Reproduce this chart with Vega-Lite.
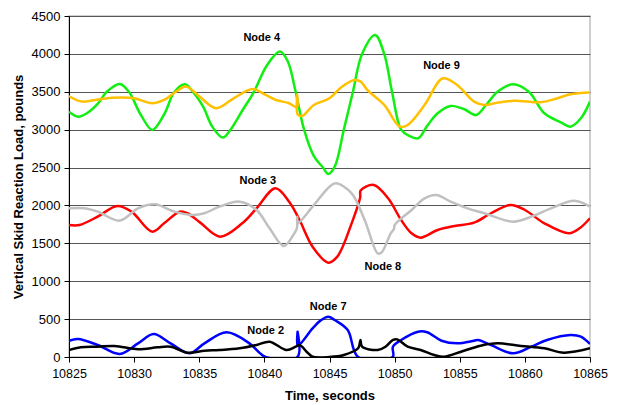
{
  "$schema": "https://vega.github.io/schema/vega-lite/v6.json",
  "width": 521,
  "height": 341,
  "autosize": {"type": "none"},
  "padding": {"left": 69, "top": 16, "right": 28, "bottom": 48},
  "config": {
    "font": "Liberation Sans",
    "view": {"stroke": "#c0c0c0", "strokeWidth": 1.5},
    "axis": {"labelFont": "Liberation Sans", "titleFont": "Liberation Sans", "labelFontSize": 13, "titleFontSize": 13, "titleFontWeight": "bold", "labelColor": "#000", "titleColor": "#000", "domainColor": "#000", "tickColor": "#000", "tickSize": 5, "labelOverlap": false}
  },
  "datasets": {
    "series": [
      {"node": "Node 4", "t": 10825.0, "v": 3238},
      {"node": "Node 4", "t": 10825.7, "v": 3172},
      {"node": "Node 4", "t": 10826.4, "v": 3220},
      {"node": "Node 4", "t": 10827.2, "v": 3340},
      {"node": "Node 4", "t": 10827.9, "v": 3500},
      {"node": "Node 4", "t": 10828.9, "v": 3604},
      {"node": "Node 4", "t": 10829.6, "v": 3500},
      {"node": "Node 4", "t": 10830.5, "v": 3200},
      {"node": "Node 4", "t": 10831.4, "v": 2996},
      {"node": "Node 4", "t": 10832.3, "v": 3200},
      {"node": "Node 4", "t": 10833.1, "v": 3500},
      {"node": "Node 4", "t": 10833.9, "v": 3599},
      {"node": "Node 4", "t": 10834.6, "v": 3480},
      {"node": "Node 4", "t": 10835.3, "v": 3304},
      {"node": "Node 4", "t": 10836.0, "v": 3040},
      {"node": "Node 4", "t": 10836.8, "v": 2895},
      {"node": "Node 4", "t": 10837.4, "v": 3000},
      {"node": "Node 4", "t": 10838.3, "v": 3250},
      {"node": "Node 4", "t": 10839.2, "v": 3500},
      {"node": "Node 4", "t": 10840.2, "v": 3850},
      {"node": "Node 4", "t": 10841.2, "v": 4030},
      {"node": "Node 4", "t": 10841.8, "v": 3900},
      {"node": "Node 4", "t": 10842.4, "v": 3500},
      {"node": "Node 4", "t": 10843.05, "v": 3000},
      {"node": "Node 4", "t": 10843.8, "v": 2650},
      {"node": "Node 4", "t": 10844.5, "v": 2500},
      {"node": "Node 4", "t": 10844.9, "v": 2416},
      {"node": "Node 4", "t": 10845.4, "v": 2512},
      {"node": "Node 4", "t": 10846.1, "v": 3000},
      {"node": "Node 4", "t": 10846.8, "v": 3500},
      {"node": "Node 4", "t": 10847.5, "v": 4000},
      {"node": "Node 4", "t": 10848.5, "v": 4250},
      {"node": "Node 4", "t": 10849.2, "v": 4000},
      {"node": "Node 4", "t": 10849.8, "v": 3500},
      {"node": "Node 4", "t": 10850.5, "v": 3000},
      {"node": "Node 4", "t": 10851.1, "v": 2920},
      {"node": "Node 4", "t": 10851.8, "v": 2887},
      {"node": "Node 4", "t": 10852.5, "v": 3050},
      {"node": "Node 4", "t": 10853.3, "v": 3216},
      {"node": "Node 4", "t": 10854.3, "v": 3313},
      {"node": "Node 4", "t": 10855.35, "v": 3269},
      {"node": "Node 4", "t": 10856.25, "v": 3194},
      {"node": "Node 4", "t": 10857.0, "v": 3320},
      {"node": "Node 4", "t": 10857.9, "v": 3500},
      {"node": "Node 4", "t": 10859.1, "v": 3599},
      {"node": "Node 4", "t": 10860.3, "v": 3500},
      {"node": "Node 4", "t": 10861.5, "v": 3216},
      {"node": "Node 4", "t": 10862.8, "v": 3093},
      {"node": "Node 4", "t": 10863.5, "v": 3040},
      {"node": "Node 4", "t": 10864.3, "v": 3150},
      {"node": "Node 4", "t": 10865.0, "v": 3370},

      {"node": "Node 9", "t": 10825.0, "v": 3445},
      {"node": "Node 9", "t": 10825.7, "v": 3383},
      {"node": "Node 9", "t": 10826.2, "v": 3370},
      {"node": "Node 9", "t": 10827.5, "v": 3406},
      {"node": "Node 9", "t": 10829.0, "v": 3423},
      {"node": "Node 9", "t": 10830.0, "v": 3414},
      {"node": "Node 9", "t": 10831.4, "v": 3349},
      {"node": "Node 9", "t": 10832.3, "v": 3392},
      {"node": "Node 9", "t": 10833.2, "v": 3500},
      {"node": "Node 9", "t": 10834.0, "v": 3568},
      {"node": "Node 9", "t": 10835.0, "v": 3440},
      {"node": "Node 9", "t": 10836.3, "v": 3283},
      {"node": "Node 9", "t": 10837.7, "v": 3420},
      {"node": "Node 9", "t": 10839.1, "v": 3538},
      {"node": "Node 9", "t": 10840.1, "v": 3458},
      {"node": "Node 9", "t": 10840.9, "v": 3392},
      {"node": "Node 9", "t": 10841.9, "v": 3349},
      {"node": "Node 9", "t": 10842.5, "v": 3296},
      {"node": "Node 9", "t": 10842.52, "v": 3460},
      {"node": "Node 9", "t": 10842.56, "v": 3200},
      {"node": "Node 9", "t": 10842.9, "v": 3181},
      {"node": "Node 9", "t": 10843.8, "v": 3326},
      {"node": "Node 9", "t": 10845.0, "v": 3414},
      {"node": "Node 9", "t": 10845.9, "v": 3560},
      {"node": "Node 9", "t": 10846.9, "v": 3656},
      {"node": "Node 9", "t": 10847.4, "v": 3634},
      {"node": "Node 9", "t": 10847.9, "v": 3524},
      {"node": "Node 9", "t": 10849.2, "v": 3326},
      {"node": "Node 9", "t": 10850.4, "v": 3040},
      {"node": "Node 9", "t": 10851.0, "v": 3062},
      {"node": "Node 9", "t": 10852.3, "v": 3326},
      {"node": "Node 9", "t": 10853.7, "v": 3678},
      {"node": "Node 9", "t": 10854.8, "v": 3590},
      {"node": "Node 9", "t": 10856.1, "v": 3370},
      {"node": "Node 9", "t": 10856.9, "v": 3326},
      {"node": "Node 9", "t": 10857.9, "v": 3357},
      {"node": "Node 9", "t": 10859.2, "v": 3383},
      {"node": "Node 9", "t": 10861.2, "v": 3362},
      {"node": "Node 9", "t": 10862.5, "v": 3414},
      {"node": "Node 9", "t": 10863.5, "v": 3467},
      {"node": "Node 9", "t": 10865.0, "v": 3489},

      {"node": "Node 3", "t": 10825.0, "v": 1742},
      {"node": "Node 3", "t": 10825.8, "v": 1742},
      {"node": "Node 3", "t": 10827.2, "v": 1852},
      {"node": "Node 3", "t": 10828.7, "v": 1993},
      {"node": "Node 3", "t": 10829.8, "v": 1918},
      {"node": "Node 3", "t": 10831.4, "v": 1654},
      {"node": "Node 3", "t": 10832.3, "v": 1764},
      {"node": "Node 3", "t": 10833.5, "v": 1918},
      {"node": "Node 3", "t": 10834.1, "v": 1897},
      {"node": "Node 3", "t": 10835.1, "v": 1770},
      {"node": "Node 3", "t": 10836.6, "v": 1588},
      {"node": "Node 3", "t": 10838.3, "v": 1764},
      {"node": "Node 3", "t": 10839.4, "v": 1962},
      {"node": "Node 3", "t": 10840.85, "v": 2227},
      {"node": "Node 3", "t": 10841.9, "v": 2050},
      {"node": "Node 3", "t": 10842.7, "v": 1808},
      {"node": "Node 3", "t": 10843.7, "v": 1456},
      {"node": "Node 3", "t": 10844.9, "v": 1245},
      {"node": "Node 3", "t": 10845.6, "v": 1324},
      {"node": "Node 3", "t": 10846.7, "v": 1764},
      {"node": "Node 3", "t": 10847.35, "v": 2100},
      {"node": "Node 3", "t": 10847.4, "v": 2200},
      {"node": "Node 3", "t": 10848.4, "v": 2270},
      {"node": "Node 3", "t": 10849.5, "v": 2094},
      {"node": "Node 3", "t": 10850.5, "v": 1808},
      {"node": "Node 3", "t": 10851.3, "v": 1632},
      {"node": "Node 3", "t": 10852.0, "v": 1575},
      {"node": "Node 3", "t": 10853.3, "v": 1676},
      {"node": "Node 3", "t": 10854.6, "v": 1729},
      {"node": "Node 3", "t": 10856.1, "v": 1773},
      {"node": "Node 3", "t": 10857.4, "v": 1897},
      {"node": "Node 3", "t": 10858.9, "v": 2006},
      {"node": "Node 3", "t": 10860.0, "v": 1940},
      {"node": "Node 3", "t": 10861.5, "v": 1764},
      {"node": "Node 3", "t": 10863.4, "v": 1632},
      {"node": "Node 3", "t": 10864.2, "v": 1698},
      {"node": "Node 3", "t": 10865.0, "v": 1831},

      {"node": "Node 8", "t": 10825.0, "v": 1962},
      {"node": "Node 8", "t": 10826.2, "v": 1962},
      {"node": "Node 8", "t": 10827.2, "v": 1918},
      {"node": "Node 8", "t": 10828.9, "v": 1800},
      {"node": "Node 8", "t": 10830.3, "v": 1962},
      {"node": "Node 8", "t": 10831.6, "v": 2015},
      {"node": "Node 8", "t": 10833.1, "v": 1918},
      {"node": "Node 8", "t": 10834.5, "v": 1874},
      {"node": "Node 8", "t": 10835.4, "v": 1897},
      {"node": "Node 8", "t": 10836.55, "v": 1984},
      {"node": "Node 8", "t": 10838.1, "v": 2050},
      {"node": "Node 8", "t": 10839.4, "v": 1940},
      {"node": "Node 8", "t": 10840.4, "v": 1698},
      {"node": "Node 8", "t": 10841.5, "v": 1465},
      {"node": "Node 8", "t": 10842.3, "v": 1632},
      {"node": "Node 8", "t": 10842.5, "v": 1700},
      {"node": "Node 8", "t": 10842.52, "v": 1850},
      {"node": "Node 8", "t": 10842.55, "v": 1764},
      {"node": "Node 8", "t": 10843.7, "v": 1984},
      {"node": "Node 8", "t": 10845.0, "v": 2248},
      {"node": "Node 8", "t": 10845.5, "v": 2292},
      {"node": "Node 8", "t": 10846.7, "v": 2160},
      {"node": "Node 8", "t": 10847.7, "v": 1808},
      {"node": "Node 8", "t": 10848.7, "v": 1368},
      {"node": "Node 8", "t": 10849.0, "v": 1380},
      {"node": "Node 8", "t": 10849.7, "v": 1632},
      {"node": "Node 8", "t": 10849.95, "v": 1690},
      {"node": "Node 8", "t": 10850.0, "v": 1740},
      {"node": "Node 8", "t": 10851.3, "v": 1940},
      {"node": "Node 8", "t": 10852.3, "v": 2094},
      {"node": "Node 8", "t": 10853.2, "v": 2138},
      {"node": "Node 8", "t": 10854.3, "v": 2050},
      {"node": "Node 8", "t": 10855.6, "v": 1962},
      {"node": "Node 8", "t": 10856.9, "v": 1897},
      {"node": "Node 8", "t": 10859.1, "v": 1786},
      {"node": "Node 8", "t": 10860.5, "v": 1852},
      {"node": "Node 8", "t": 10862.0, "v": 1962},
      {"node": "Node 8", "t": 10863.8, "v": 2063},
      {"node": "Node 8", "t": 10865.0, "v": 1984},

      {"node": "Node 7", "t": 10825.0, "v": 215},
      {"node": "Node 7", "t": 10825.7, "v": 238},
      {"node": "Node 7", "t": 10827.2, "v": 158},
      {"node": "Node 7", "t": 10828.9, "v": 40},
      {"node": "Node 7", "t": 10830.3, "v": 180},
      {"node": "Node 7", "t": 10831.5, "v": 303},
      {"node": "Node 7", "t": 10832.8, "v": 180},
      {"node": "Node 7", "t": 10834.25, "v": 48},
      {"node": "Node 7", "t": 10835.4, "v": 180},
      {"node": "Node 7", "t": 10837.1, "v": 326},
      {"node": "Node 7", "t": 10838.85, "v": 180},
      {"node": "Node 7", "t": 10839.6, "v": 60},
      {"node": "Node 7", "t": 10840.1, "v": 0},
      {"node": "Node 7", "t": 10842.54, "v": 0},
      {"node": "Node 7", "t": 10842.55, "v": 334},
      {"node": "Node 7", "t": 10842.57, "v": 150},
      {"node": "Node 7", "t": 10843.7, "v": 378},
      {"node": "Node 7", "t": 10844.3, "v": 480},
      {"node": "Node 7", "t": 10844.9, "v": 532},
      {"node": "Node 7", "t": 10845.4, "v": 488},
      {"node": "Node 7", "t": 10846.4, "v": 356},
      {"node": "Node 7", "t": 10847.2, "v": 0},
      {"node": "Node 7", "t": 10849.85, "v": 0},
      {"node": "Node 7", "t": 10849.87, "v": 136},
      {"node": "Node 7", "t": 10850.5, "v": 224},
      {"node": "Node 7", "t": 10851.8, "v": 334},
      {"node": "Node 7", "t": 10852.5, "v": 326},
      {"node": "Node 7", "t": 10853.6, "v": 215},
      {"node": "Node 7", "t": 10854.8, "v": 180},
      {"node": "Node 7", "t": 10856.1, "v": 215},
      {"node": "Node 7", "t": 10856.4, "v": 224},
      {"node": "Node 7", "t": 10857.4, "v": 158},
      {"node": "Node 7", "t": 10859.1, "v": 48},
      {"node": "Node 7", "t": 10860.5, "v": 136},
      {"node": "Node 7", "t": 10861.7, "v": 224},
      {"node": "Node 7", "t": 10863.5, "v": 290},
      {"node": "Node 7", "t": 10864.3, "v": 268},
      {"node": "Node 7", "t": 10865.0, "v": 172},

      {"node": "Node 2", "t": 10825.0, "v": 92},
      {"node": "Node 2", "t": 10825.9, "v": 128},
      {"node": "Node 2", "t": 10827.2, "v": 136},
      {"node": "Node 2", "t": 10828.5, "v": 145},
      {"node": "Node 2", "t": 10830.3, "v": 102},
      {"node": "Node 2", "t": 10831.8, "v": 128},
      {"node": "Node 2", "t": 10832.8, "v": 136},
      {"node": "Node 2", "t": 10834.1, "v": 57},
      {"node": "Node 2", "t": 10835.4, "v": 83},
      {"node": "Node 2", "t": 10836.55, "v": 92},
      {"node": "Node 2", "t": 10838.1, "v": 115},
      {"node": "Node 2", "t": 10839.4, "v": 158},
      {"node": "Node 2", "t": 10840.4, "v": 202},
      {"node": "Node 2", "t": 10841.7, "v": 92},
      {"node": "Node 2", "t": 10842.4, "v": 136},
      {"node": "Node 2", "t": 10842.7, "v": 158},
      {"node": "Node 2", "t": 10843.3, "v": 60},
      {"node": "Node 2", "t": 10843.7, "v": 4},
      {"node": "Node 2", "t": 10845.0, "v": 0},
      {"node": "Node 2", "t": 10846.1, "v": 26},
      {"node": "Node 2", "t": 10847.2, "v": 115},
      {"node": "Node 2", "t": 10847.38, "v": 224},
      {"node": "Node 2", "t": 10847.5, "v": 136},
      {"node": "Node 2", "t": 10848.7, "v": 92},
      {"node": "Node 2", "t": 10849.3, "v": 136},
      {"node": "Node 2", "t": 10849.85, "v": 224},
      {"node": "Node 2", "t": 10850.2, "v": 233},
      {"node": "Node 2", "t": 10851.0, "v": 136},
      {"node": "Node 2", "t": 10852.0, "v": 92},
      {"node": "Node 2", "t": 10853.05, "v": 26},
      {"node": "Node 2", "t": 10853.8, "v": 4},
      {"node": "Node 2", "t": 10855.1, "v": 70},
      {"node": "Node 2", "t": 10856.6, "v": 149},
      {"node": "Node 2", "t": 10857.9, "v": 180},
      {"node": "Node 2", "t": 10859.7, "v": 145},
      {"node": "Node 2", "t": 10861.5, "v": 115},
      {"node": "Node 2", "t": 10863.0, "v": 57},
      {"node": "Node 2", "t": 10865.0, "v": 115}
    ],
    "labels": [
      {"label": "Node 4", "t": 10839.8, "v": 4214},
      {"label": "Node 9", "t": 10853.6, "v": 3845},
      {"label": "Node 3", "t": 10839.5, "v": 2323},
      {"label": "Node 8", "t": 10849.1, "v": 1192},
      {"label": "Node 7", "t": 10844.9, "v": 664},
      {"label": "Node 2", "t": 10840.1, "v": 343}
    ]
  },
  "encoding": {
    "x": {"field": "t", "type": "quantitative",
          "scale": {"domain": [10825, 10865], "nice": false, "zero": false},
          "axis": {"values": [10825, 10830, 10835, 10840, 10845, 10850, 10855, 10860, 10865], "format": "d", "grid": false, "title": "Time, seconds", "labelFontSize": 12.5, "labelPadding": 5, "titlePadding": 10, "labelFlush": false, "labelOverlap": false}},
    "y": {"field": "v", "type": "quantitative",
          "scale": {"domain": [0, 4500], "nice": false},
          "axis": {"values": [0, 500, 1000, 1500, 2000, 2500, 3000, 3500, 4000, 4500], "format": "d", "grid": true, "gridColor": "#555555", "gridOpacity": 1, "gridWidth": 1, "title": "Vertical Skid Reaction Load, pounds", "labelPadding": 4, "titlePadding": 6, "labelOverlap": false}}
  },
  "layer": [
    {
      "data": {"name": "series"},
      "mark": {"type": "line", "strokeWidth": 2.5, "interpolate": "catmull-rom", "clip": true},
      "encoding": {
        "color": {"field": "node", "type": "nominal",
                  "scale": {"domain": ["Node 2", "Node 3", "Node 4", "Node 7", "Node 8", "Node 9"], "range": ["#000000", "#FF0000", "#11EE11", "#0000FF", "#C0C0C0", "#FFC000"]},
                  "legend": null}
      }
    },
    {
      "data": {"name": "labels"},
      "mark": {"type": "text", "font": "Liberation Sans", "fontSize": 11, "fontWeight": "bold", "color": "#000", "align": "center", "baseline": "middle"},
      "encoding": {
        "text": {"field": "label"}
      }
    }
  ]
}
